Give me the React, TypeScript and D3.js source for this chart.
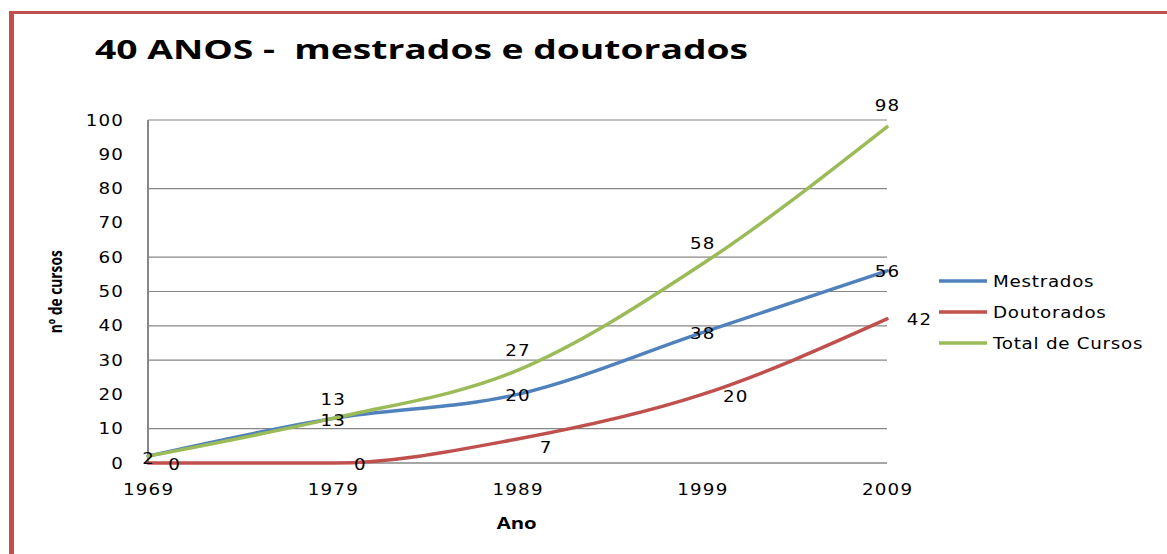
import React from "react";
import * as d3 from "d3";

const years = [1969, 1979, 1989, 1999, 2009];
const mestrados = [2, 13, 20, 38, 56];
const doutorados = [0, 0, 7, 20, 42];
const totalCursos = [2, 13, 27, 58, 98];
const yTicks = [0, 10, 20, 30, 40, 50, 60, 70, 80, 90, 100];
const gridValues = [10, 30, 40, 50, 60, 80, 100];
const seriesNames = ["Mestrados", "Doutorados", "Total de Cursos"];
const title = "40 ANOS -  mestrados e doutorados";

const W = 1167;
const H = 554;
const colors = ["#4F81BD", "#C0504D", "#9BBB59"];
// label offsets (layout only)
const labelOffsets = [
  [[0, 2], [0, 2], [0, 1], [0, 1], [0, 1]],
  [[26, 1], [27, 1], [28, 9], [33, 2], [32, 1]],
  [null, [0, -19], [0, -20], [0, -21], [0, -21]],
];

const SX = 1.22;

function Txt({
  x,
  y,
  anchor = "start",
  spacing = 1,
  children,
}: {
  x: number;
  y: number;
  anchor?: string;
  spacing?: number;
  children: React.ReactNode;
}) {
  const dx = anchor === "middle" ? spacing / 2 : anchor === "end" ? spacing : 0;
  return (
    <g transform={`translate(${x},${y}) scale(${SX},1)`}>
      <text
        x={dx}
        y={0}
        textAnchor={anchor}
        fontFamily="DejaVu Sans"
        fontSize={15}
        letterSpacing={spacing}
        fill="#000"
        style={{ whiteSpace: "pre" }}
      >
        {children}
      </text>
    </g>
  );
}

export default function App() {
  const x = d3.scaleLinear().domain([1969, 2009]).range([148, 887]);
  const y = d3.scaleLinear().domain([0, 100]).range([463, 120]);
  const series = [mestrados, doutorados, totalCursos];
  const line = d3
    .line<number>()
    .x((_, i) => x(years[i]))
    .y((d) => y(d))
    .curve(d3.curveMonotoneX);
  const drawOrder = [1, 0, 2];

  return (
    <svg
      width={W}
      height={H}
      style={{ position: "absolute", left: 0, top: 0, background: "#fff" }}
    >
      <rect x={0} y={0} width={W} height={H} fill="#fff" />
      <rect x={9} y={11} width={W - 9} height={3} fill="#C0504D" />
      <rect x={9} y={11} width={5} height={H - 11} fill="#C0504D" />

      <text
        x={95}
        y={59}
        fontFamily="Open Sans"
        fontWeight="bold"
        fontSize={27}
        textLength={653}
        lengthAdjust="spacingAndGlyphs"
        fill="#000"
        style={{ whiteSpace: "pre" }}
      >
        {title}
      </text>

      {gridValues.map((v) => (
        <line key={v} x1={148} x2={887} y1={y(v)} y2={y(v)} stroke="#878787" strokeWidth={1.2} />
      ))}
      <line x1={148} x2={887} y1={y(0)} y2={y(0)} stroke="#878787" strokeWidth={1.5} />
      <line x1={148} x2={148} y1={y(100)} y2={y(0)} stroke="#878787" strokeWidth={2} />

      {yTicks.map((v) => (
        <Txt key={v} x={123} y={y(v) + 5.5} anchor="end">
          {v}
        </Txt>
      ))}
      {years.map((yr) => (
        <Txt key={yr} x={x(yr)} y={495} anchor="middle">
          {yr}
        </Txt>
      ))}

      <text
        x={516.7}
        y={529}
        textAnchor="middle"
        fontFamily="Open Sans"
        fontWeight="bold"
        fontSize={16}
        textLength={40}
        lengthAdjust="spacingAndGlyphs"
        fill="#000"
      >
        Ano
      </text>
      <text
        transform={`translate(61.5,291.7) rotate(-90)`}
        textAnchor="middle"
        fontFamily="Open Sans"
        fontWeight="bold"
        fontSize={18}
        textLength={83}
        lengthAdjust="spacingAndGlyphs"
        fill="#000"
      >
        nº de cursos
      </text>

      {drawOrder.map((si) => (
        <path
          key={si}
          d={line(series[si]) || ""}
          fill="none"
          stroke={colors[si]}
          strokeWidth={3.5}
          strokeLinecap="round"
          strokeLinejoin="round"
        />
      ))}

      {series.map((vals, si) =>
        vals.map((v, i) => {
          const off = labelOffsets[si][i];
          if (!off) return null;
          return (
            <Txt
              key={`${si}-${i}`}
              x={x(years[i]) + off[0]}
              y={y(v) + off[1] + 5.5}
              anchor="middle"
            >
              {v}
            </Txt>
          );
        })
      )}

      {seriesNames.map((name, i) => (
        <g key={name}>
          <line
            x1={939}
            x2={987}
            y1={281 + i * 31}
            y2={281 + i * 31}
            stroke={colors[i]}
            strokeWidth={3.5}
          />
          <Txt x={993} y={286.5 + i * 31} spacing={0.6}>
            {name}
          </Txt>
        </g>
      ))}
    </svg>
  );
}
